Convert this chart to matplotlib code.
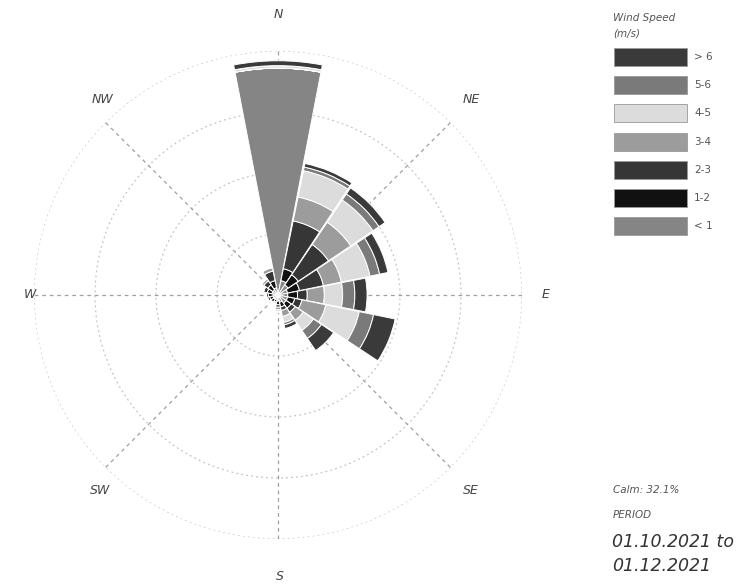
import numpy as np
import matplotlib
matplotlib.use("Agg")
import matplotlib.pyplot as plt
from matplotlib.patches import Rectangle

# ---------------- data ----------------
directions = ["N", "NNE", "NE", "ENE", "E", "ESE", "SE", "SSE",
              "S", "SSW", "SW", "WSW", "W", "WNW", "NW", "NNW"]
speed_bins = ["< 1", "1-2", "2-3", "3-4", "4-5", "5-6", "> 6"]
bin_colors = ["#858585", "#111111", "#363636", "#9c9c9c", "#dcdcdc", "#7a7a7a", "#3a3a3a"]

# frequency (%) per direction for each speed bin
f_lt1 = [18.6, 1.2, 1.0, 0.8, 0.8, 0.8, 0.8, 0.6, 0.5, 0.4, 0.4, 0.4, 0.4, 0.5, 0.5, 0.6]
f_1_2 = [0.0, 1.0, 1.0, 1.0, 0.8, 0.6, 0.5, 0.4, 0.3, 0.2, 0.3, 0.3, 0.4, 0.4, 0.5, 0.6]
f_2_3 = [0.0, 4.0, 3.0, 2.0, 0.8, 0.6, 0.4, 0.3, 0.2, 0.1, 0.1, 0.2, 0.2, 0.3, 0.4, 0.8]
f_3_4 = [0.0, 2.0, 2.2, 1.5, 1.4, 2.0, 0.8, 0.5, 0.2, 0.1, 0.0, 0.0, 0.0, 0.1, 0.2, 0.3]
f_4_5 = [0.2, 2.2, 2.2, 2.4, 1.5, 2.8, 1.0, 0.5, 0.2, 0.0, 0.0, 0.0, 0.0, 0.0, 0.0, 0.0]
f_5_6 = [0.0, 0.3, 0.6, 0.8, 1.0, 1.2, 0.8, 0.2, 0.0, 0.0, 0.0, 0.0, 0.0, 0.0, 0.0, 0.0]
f_gt6 = [0.4, 0.3, 0.6, 0.7, 1.0, 1.8, 1.2, 0.3, 0.0, 0.0, 0.0, 0.0, 0.0, 0.0, 0.0, 0.0]
series = [f_lt1, f_1_2, f_2_3, f_3_4, f_4_5, f_5_6, f_gt6]

ring_values = [5, 10, 15, 20]
axis_labels = ["N", "NE", "E", "SE", "S", "SW", "W", "NW"]
calm_text = "Calm: 32.1%"
period_from = "01.10.2021 to"
period_to = "01.12.2021"

# ---------------- figure ----------------
W, H = 739, 585
fig = plt.figure(figsize=(W / 100, H / 100), dpi=100)
fig.patch.set_facecolor("white")

cx, cy, R = 278, 295, 244
ax = fig.add_axes([(cx - R) / W, (H - cy - R) / H, 2 * R / W, 2 * R / H], projection="polar")
ax.set_theta_zero_location("N")
ax.set_theta_direction(-1)
ax.set_ylim(0, 20)
ax.spines["polar"].set_visible(False)
ax.grid(False)
ax.set_xticks([])
ax.set_yticks([])
ax.set_facecolor("none")

# rings
th = np.linspace(0, 2 * np.pi, 400)
for rv in ring_values:
    ax.plot(th, np.full_like(th, rv), color="#c4c4c4", lw=0.9, ls=(0, (1.5, 2.5)), zorder=1)
# spokes
for k in range(8):
    a = np.deg2rad(45 * k)
    ax.plot([a, a], [0, 20.7], color="#a0a0a0", lw=0.9, ls=(0, (3, 3)), zorder=1)

theta = np.deg2rad(np.arange(16) * 22.5)
width = np.deg2rad(22.5) * 0.97
bottom = np.zeros(16)
for vals, col in zip(series, bin_colors):
    v = np.array(vals)
    ax.bar(theta, v, width=width, bottom=bottom, color=col, edgecolor="white",
           linewidth=0.7, zorder=3)
    bottom += v

# direction labels (pixel positions)
label_pos = [(278, 14), (471, 99), (546, 295), (471, 490),
             (280, 577), (100, 490), (30, 295), (103, 99)]
for lab, (px, py) in zip(axis_labels, label_pos):
    fig.text(px / W, 1 - py / H, lab, ha="center", va="center", fontsize=9,
             style="italic", color="#444444")

# legend (manual)
fig.text(613 / W, 1 - 18 / H, "Wind Speed", fontsize=7.5, style="italic",
         color="#555555", ha="left", va="center")
fig.text(613 / W, 1 - 34 / H, "(m/s)", fontsize=7.5, style="italic",
         color="#555555", ha="left", va="center")
leg_labels = speed_bins[::-1]
leg_colors = bin_colors[::-1]
for i, (lab, col) in enumerate(zip(leg_labels, leg_colors)):
    yc = 57 + i * 28.2
    fig.patches.append(Rectangle((614 / W, 1 - (yc + 9) / H), 73 / W, 18 / H,
                                 transform=fig.transFigure, facecolor=col,
                                 edgecolor="#999999", lw=0.6))
    fig.text(694 / W, 1 - yc / H, lab, fontsize=7.5, color="#555555",
             ha="left", va="center")

fig.text(613 / W, 1 - 490 / H, calm_text, fontsize=7.5, style="italic",
         color="#555555", ha="left", va="center")
fig.text(613 / W, 1 - 515 / H, "PERIOD", fontsize=7.5, style="italic",
         color="#555555", ha="left", va="center")
fig.text(612 / W, 1 - 542 / H, period_from, fontsize=12.5, style="italic",
         color="#333333", ha="left", va="center")
fig.text(612 / W, 1 - 566 / H, period_to, fontsize=12.5, style="italic",
         color="#333333", ha="left", va="center")

fig.savefig("out.png", dpi=100, facecolor="white")
